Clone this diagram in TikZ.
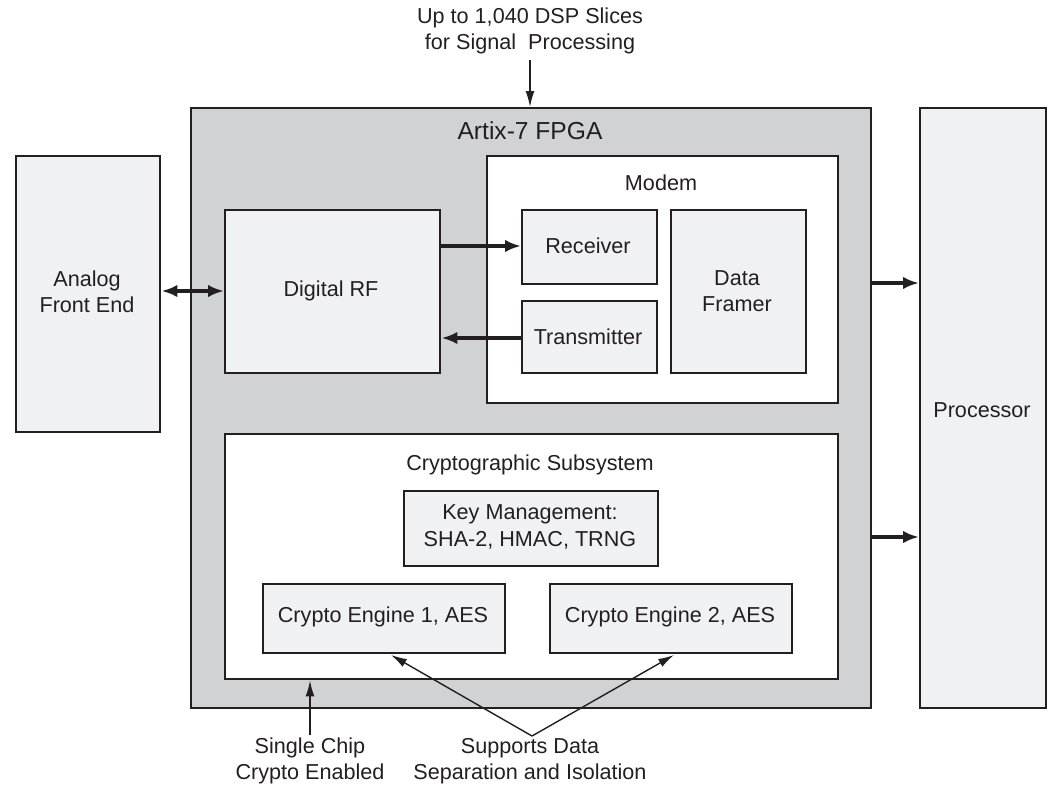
\documentclass[tikz,border=0pt]{standalone}
\usepackage{fontspec}
\setmainfont{Liberation Sans}
\usetikzlibrary{arrows.meta}
\definecolor{linec}{HTML}{231F20}
\definecolor{boxfill}{HTML}{F0F1F3}
\definecolor{fpgafill}{HTML}{D1D2D4}
\begin{document}
\begin{tikzpicture}[x=0.02cm,y=-0.02cm,
  blk/.style={draw=linec,line width=1.4pt,fill=boxfill,inner sep=0pt},
  wblk/.style={draw=linec,line width=1.4pt,fill=white,inner sep=0pt},
  lbl/.style={text=linec,font=\fontsize{12.3}{15}\selectfont,align=center,inner sep=0pt},
  thick arr/.style={draw=linec,line width=2.2pt,-{Latex[length=9pt,width=7pt]}},
  thin arr/.style={draw=linec,line width=0.8pt,-{Latex[length=9pt,width=5pt]}}]
\useasboundingbox (0,0) rectangle (1060,787);
% FPGA
\node[blk,fill=fpgafill,minimum width=680*0.02cm,minimum height=600*0.02cm,anchor=north west] (fpga) at (190,107) {};
\node[lbl] (fpgat) at (530,131) {\fontsize{14}{16}\selectfont Artix-7 FPGA};
% Analog
\node[blk,minimum width=144*0.02cm,minimum height=276*0.02cm,anchor=north west] (afe) at (15,155) {};
\node[lbl] (afet) at (87,292) {Analog\\Front End};
% Processor
\node[blk,minimum width=126*0.02cm,minimum height=600*0.02cm,anchor=north west] (proc) at (919,107) {};
\node[lbl] (proct) at (982,410) {Processor};
% Digital RF
\node[blk,minimum width=215*0.02cm,minimum height=163*0.02cm,anchor=north west] (drf) at (224,209) {};
\node[lbl] (drft) at (331,291) {Digital RF};
% Modem
\node[wblk,minimum width=351*0.02cm,minimum height=247*0.02cm,anchor=north west] (modem) at (486,155) {};
\node[lbl] (modemt) at (661,183) {Modem};
\node[blk,minimum width=135*0.02cm,minimum height=74*0.02cm,anchor=north west] (rx) at (521,209) {};
\node[lbl] (rxt) at (588,246) {Receiver};
\node[blk,minimum width=135*0.02cm,minimum height=72*0.02cm,anchor=north west] (tx) at (521,300) {};
\node[lbl] (txt) at (588,337) {Transmitter};
\node[blk,minimum width=135*0.02cm,minimum height=163*0.02cm,anchor=north west] (df) at (670,209) {};
\node[lbl] (dft) at (737,291) {Data\\Framer};
% Crypto
\node[wblk,minimum width=613*0.02cm,minimum height=245*0.02cm,anchor=north west] (crypto) at (224,433) {};
\node[lbl] (cryptot) at (530,465) {Cryptographic Subsystem};
\node[blk,minimum width=254*0.02cm,minimum height=75*0.02cm,anchor=north west] (km) at (403,490) {};
\node[lbl] (kmt) at (530,527) {Key Management:\\SHA-2, HMAC, TRNG};
\node[blk,minimum width=242*0.02cm,minimum height=69*0.02cm,anchor=north west] (ce1) at (262,583) {};
\node[lbl] (ce1t) at (383,617) {Crypto Engine 1, AES};
\node[blk,minimum width=242*0.02cm,minimum height=69*0.02cm,anchor=north west] (ce2) at (549,583) {};
\node[lbl] (ce2t) at (670,617) {Crypto Engine 2, AES};
% top annotation
\node[lbl] (dsp) at (530,31) {Up to 1,040 DSP Slices\\for Signal\ \ Processing};
\coordinate (dspend) at (530,60);
\draw[thin arr] (dspend) -- (fpga.north-|dspend);
% bottom annotations
\node[lbl] (sc) at (310,761) {Single Chip\\Crypto Enabled};
\node[lbl] (sd) at (530,761) {Supports Data\\Separation and Isolation};
\coordinate (scend) at (310,735);
\draw[thin arr] (scend) -- (crypto.south-|scend);
\coordinate (sdend) at (532,736);
\coordinate (ce1p) at (391,655);
\coordinate (ce2p) at (674,655);
\draw[thin arr] (sdend) -- (ce1p);
\draw[thin arr] (sdend) -- (ce2p);
% thick connectors
\draw[thick arr,{Latex[length=9pt,width=7pt]}-{Latex[length=9pt,width=7pt]}] (afe.east|-0,291) -- (drf.west|-0,291);
\draw[thick arr] (drf.east|-0,246) -- (rx.west|-0,246);
\draw[thick arr] (tx.west|-0,338) -- (drf.east|-0,338);
\draw[thick arr] (fpga.east|-0,283) -- (proc.west|-0,283);
\draw[thick arr] (fpga.east|-0,537) -- (proc.west|-0,537);
\end{tikzpicture}
\end{document}
